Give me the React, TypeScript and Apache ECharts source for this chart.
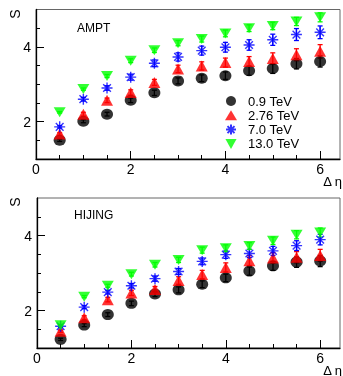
import React, { useEffect, useRef } from "react";
import * as echarts from "echarts";

const deltaEta = [0.5, 1, 1.5, 2, 2.5, 3, 3.5, 4, 4.5, 5, 5.5, 6];
const energyLabels = ["0.9 TeV", "2.76 TeV", "7.0 TeV", "13.0 TeV"];

// AMPT
const amptS09 = [1.5, 2.01, 2.2, 2.57, 2.77, 3.09, 3.16, 3.23, 3.36, 3.42, 3.55, 3.61];
const amptS276 = [1.67, 2.2, 2.57, 2.78, 3.05, 3.41, 3.49, 3.58, 3.61, 3.69, 3.79, 3.88];
const amptS70 = [1.86, 2.6, 2.9, 3.19, 3.56, 3.73, 3.9, 3.99, 4.05, 4.19, 4.33, 4.39];
const amptS130 = [2.25, 2.87, 3.22, 3.63, 3.91, 4.1, 4.21, 4.36, 4.5, 4.56, 4.68, 4.79];
const amptE09 = [0.03, 0.04, 0.05, 0.06, 0.07, 0.08, 0.09, 0.1, 0.12, 0.13, 0.14, 0.15];
const amptE276 = [0.03, 0.05, 0.06, 0.07, 0.08, 0.1, 0.11, 0.12, 0.13, 0.15, 0.16, 0.18];
const amptE70 = [0.03, 0.05, 0.06, 0.08, 0.09, 0.11, 0.12, 0.13, 0.14, 0.15, 0.16, 0.17];
const amptE130 = [0.02, 0.03, 0.04, 0.05, 0.06, 0.07, 0.08, 0.09, 0.09, 0.1, 0.11, 0.12];

// HIJING
const hijS09 = [1.23, 1.61, 1.89, 2.19, 2.44, 2.55, 2.7, 2.87, 3.05, 3.19, 3.29, 3.32];
const hijS276 = [1.45, 1.81, 2.29, 2.47, 2.56, 2.8, 2.96, 3.15, 3.33, 3.4, 3.42, 3.47];
const hijS70 = [1.58, 2.09, 2.49, 2.66, 2.85, 3.04, 3.31, 3.49, 3.52, 3.59, 3.73, 3.89];
const hijS130 = [1.61, 2.37, 2.66, 2.97, 3.22, 3.35, 3.61, 3.66, 3.72, 3.86, 4.02, 4.08];
const hijE09 = [0.03, 0.04, 0.05, 0.06, 0.07, 0.08, 0.09, 0.1, 0.11, 0.12, 0.14, 0.15];
const hijE276 = [0.03, 0.05, 0.06, 0.07, 0.08, 0.1, 0.11, 0.12, 0.13, 0.14, 0.15, 0.16];
const hijE70 = [0.03, 0.04, 0.05, 0.06, 0.07, 0.08, 0.09, 0.1, 0.11, 0.12, 0.13, 0.14];
const hijE130 = [0.02, 0.03, 0.04, 0.05, 0.06, 0.07, 0.08, 0.09, 0.09, 0.1, 0.11, 0.12];

const xMajorTicks = [0, 2, 4, 6];
const xMinorTicks = [0.5, 1, 1.5, 2.5, 3, 3.5, 4.5, 5, 5.5, 6.0];
const yMajorTicks = [2, 4];
const yMinorTicks = [1.5, 2.5, 3, 3.5, 4.5];

const colors = ["#000000", "#ff0000", "#0000ff", "#00ff00"];
const symbols = [
  "circle",
  "triangle",
  "path://M5,0L5,10M0,5L10,5M1.5,1.5L8.5,8.5M8.5,1.5L1.5,8.5",
  "path://M0,0L10,0L5,9Z",
];
const symbolSizes: any[] = [[12, 11], [12, 11], [11, 11], [12, 10]];

const FONT = "Liberation Sans, Arial, sans-serif";

export default function App() {
  const ref = useRef<HTMLDivElement>(null);
  useEffect(() => {
    if (!ref.current) return;
    const chart = echarts.init(ref.current, null, { renderer: "svg" });

    const grids = [
      { left: 36, top: 9.5, width: 304, height: 149.5 },
      { left: 37, top: 198, width: 303, height: 150 },
    ];

    const xAxes: any[] = [];
    const yAxes: any[] = [];
    [0, 1].forEach((g) => {
      xAxes.push({
        type: "value",
        gridIndex: g,
        position: "bottom",
        min: 0,
        max: 6.42,
        axisLine: { show: true, onZero: false, lineStyle: { color: "#000", width: 1.3 } },
        axisTick: { show: true, inside: true, length: 8, customValues: xMajorTicks, lineStyle: { color: "#000" } },
        axisLabel: { show: true, customValues: xMajorTicks, margin: 3, fontSize: 14, color: "#000", fontFamily: FONT },
        splitLine: { show: false },
      });
      xAxes.push({
        type: "value",
        gridIndex: g,
        position: "bottom",
        min: 0,
        max: 6.42,
        axisLine: { show: false, onZero: false },
        axisTick: { show: true, inside: true, length: 4, customValues: xMinorTicks, lineStyle: { color: "#000" } },
        axisLabel: { show: false },
        splitLine: { show: false },
      });
      yAxes.push({
        type: "value",
        gridIndex: g,
        position: "left",
        min: 1,
        max: 5,
        axisLine: { show: true, onZero: false, lineStyle: { color: "#000", width: 1.3 } },
        axisTick: { show: true, inside: true, length: 8, customValues: yMajorTicks, lineStyle: { color: "#000" } },
        axisLabel: { show: true, customValues: yMajorTicks, margin: 5, fontSize: 14, color: "#000", fontFamily: FONT },
        splitLine: { show: false },
      });
      yAxes.push({
        type: "value",
        gridIndex: g,
        position: "left",
        min: 1,
        max: 5,
        axisLine: { show: false, onZero: false },
        axisTick: { show: true, inside: true, length: 4, customValues: yMinorTicks, lineStyle: { color: "#000" } },
        axisLabel: { show: false },
        splitLine: { show: false },
      });
    });

    const panels = [
      { vals: [amptS09, amptS276, amptS70, amptS130], errs: [amptE09, amptE276, amptE70, amptE130] },
      { vals: [hijS09, hijS276, hijS70, hijS130], errs: [hijE09, hijE276, hijE70, hijE130] },
    ];

    const series: any[] = [];
    panels.forEach((p, g) => {
      p.vals.forEach((vals, i) => {
        const color = colors[i];
        series.push({
          type: "custom",
          name: "err" + g + "_" + i,
          xAxisIndex: g * 2,
          yAxisIndex: g * 2,
          z: 1,
          silent: true,
          data: deltaEta.map((x, k) => [x, vals[k], p.errs[i][k]]),
          encode: { x: 0, y: 1 },
          renderItem: (params: any, api: any) => {
            const x = api.value(0);
            const y = api.value(1);
            const e = api.value(2);
            const p1 = api.coord([x, y + e]);
            const p2 = api.coord([x, y - e]);
            const c = 2.5;
            const st = { stroke: color, lineWidth: 1.3 };
            return {
              type: "group",
              children: [
                { type: "line", shape: { x1: p1[0], y1: p1[1], x2: p2[0], y2: p2[1] }, style: st },
                { type: "line", shape: { x1: p1[0] - c, y1: p1[1], x2: p1[0] + c, y2: p1[1] }, style: st },
                { type: "line", shape: { x1: p2[0] - c, y1: p2[1], x2: p2[0] + c, y2: p2[1] }, style: st },
              ],
            };
          },
        });
      });
      p.vals.forEach((vals, i) => {
        series.push({
          type: "scatter",
          name: energyLabels[i],
          xAxisIndex: g * 2,
          yAxisIndex: g * 2,
          z: 3,
          symbol: symbols[i],
          symbolSize: symbolSizes[i],
          itemStyle:
            i === 2
              ? { color: colors[i], borderColor: colors[i], borderWidth: 1.4 }
              : { color: colors[i], borderWidth: 0 },
          data: deltaEta.map((x, k) => [x, vals[k]]),
        });
      });
    });

    chart.setOption({
      animation: false,
      grid: grids.map((gr) => ({ ...gr, show: true, borderColor: "#666", borderWidth: 1, backgroundColor: "transparent" })),
      xAxis: xAxes,
      yAxis: yAxes,
      legend: {
        data: energyLabels,
        orient: "vertical",
        left: 225,
        top: 94.5,
        itemWidth: 12,
        itemHeight: 10,
        itemGap: 1.3,
        padding: 0,
        textStyle: { fontSize: 13, color: "#000", fontFamily: FONT, padding: [0, 0, 0, 6] },
      },
      graphic: [
        { type: "text", x: 15, y: 14, rotation: Math.PI / 2, style: { text: "S", fontSize: 14, fontFamily: FONT, fill: "#000", align: "center", verticalAlign: "middle" } },
        { type: "text", x: 15, y: 202, rotation: Math.PI / 2, style: { text: "S", fontSize: 14, fontFamily: FONT, fill: "#000", align: "center", verticalAlign: "middle" } },
        { type: "text", x: 342, y: 181, style: { text: "Δ η", fontSize: 13, fontFamily: FONT, fill: "#000", align: "right", verticalAlign: "middle" } },
        { type: "text", x: 342, y: 370, style: { text: "Δ η", fontSize: 13, fontFamily: FONT, fill: "#000", align: "right", verticalAlign: "middle" } },
        { type: "text", x: 77, y: 28, style: { text: "AMPT", fontSize: 12, fontFamily: FONT, fill: "#000", align: "left", verticalAlign: "middle" } },
        { type: "text", x: 74, y: 215, style: { text: "HIJING", fontSize: 12, fontFamily: FONT, fill: "#000", align: "left", verticalAlign: "middle" } },
      ],
      series,
    });
    return () => chart.dispose();
  }, []);
  return <div ref={ref} style={{ position: "fixed", left: 0, top: 0, width: 343, height: 376 }} />;
}
